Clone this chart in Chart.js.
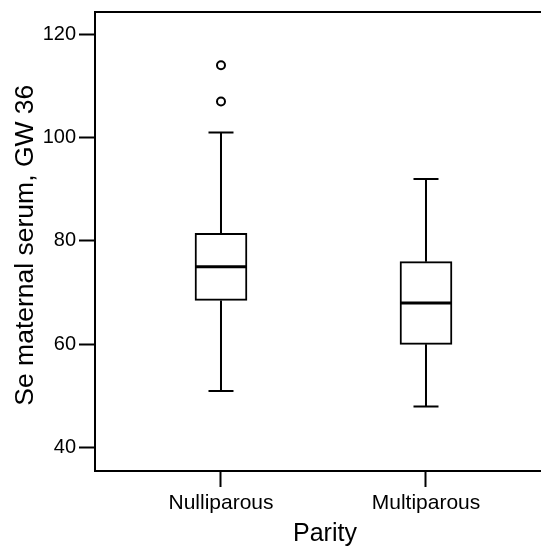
<!DOCTYPE html>
<html>
<head>
<meta charset="utf-8">
<script src="https://cdn.jsdelivr.net/npm/chart.js@4"></script>
<style>
  html, body { margin: 0; padding: 0; background: #fff; }
  #wrap { width: 541px; height: 550px; }
</style>
</head>
<body>
<div id="wrap"><canvas id="boxChart"></canvas></div>
<script>
// Valori (Se nel siero materno, settimana 36)
const categories = ['Nulliparous', 'Multiparous'];
const whiskerLow = [51, 48];
const q1 = [68.5, 60];
const median = [75, 68];
const q3 = [81.5, 76];
const whiskerHigh = [101, 92];
const outliers = [[107, 114], []];
const yTicks = [40, 60, 80, 100, 120];

const FONT = 'Liberation Sans, Arial, Helvetica, sans-serif';
const capHalf = 12.5; // metà larghezza dei "baffi", in pixel

// scatole come barre fluttuanti
const boxData = categories.map((c, i) => ({ x: i + 1, y: [q1[i], q3[i]] }));
// punti anomali
const outlierData = [];
outliers.forEach((vals, i) => vals.forEach(v => outlierData.push({ x: i + 1, y: v })));

// baffi, mediana e linea superiore disegnati con le scale del grafico
const boxplotLines = {
    id: 'boxplotLines',
    afterDatasetsDraw(chart) {
        const { ctx, chartArea, scales: { x, y } } = chart;
        ctx.save();
        ctx.strokeStyle = '#000';
        ctx.lineCap = 'butt';
        categories.forEach((c, i) => {
            const cx = x.getPixelForValue(i + 1);
            ctx.lineWidth = 2;
            ctx.beginPath();
            ctx.moveTo(cx, y.getPixelForValue(q3[i]));
            ctx.lineTo(cx, y.getPixelForValue(whiskerHigh[i]));
            ctx.moveTo(cx, y.getPixelForValue(q1[i]));
            ctx.lineTo(cx, y.getPixelForValue(whiskerLow[i]));
            ctx.moveTo(cx - capHalf, y.getPixelForValue(whiskerHigh[i]));
            ctx.lineTo(cx + capHalf, y.getPixelForValue(whiskerHigh[i]));
            ctx.moveTo(cx - capHalf, y.getPixelForValue(whiskerLow[i]));
            ctx.lineTo(cx + capHalf, y.getPixelForValue(whiskerLow[i]));
            ctx.stroke();
            // mediana
            const bar = chart.getDatasetMeta(0).data[i];
            ctx.lineWidth = 3;
            ctx.beginPath();
            ctx.moveTo(bar.x - bar.width / 2, y.getPixelForValue(median[i]));
            ctx.lineTo(bar.x + bar.width / 2, y.getPixelForValue(median[i]));
            ctx.stroke();
        });
        // bordo superiore
        ctx.lineWidth = 2;
        ctx.beginPath();
        ctx.moveTo(chartArea.left, chartArea.top);
        ctx.lineTo(chartArea.right, chartArea.top);
        ctx.stroke();
        ctx.restore();
    }
};

const config = {
    type: 'bar',
    data: {
        datasets: [{
            data: boxData,
            backgroundColor: '#fff',
            borderColor: '#000',
            borderWidth: 2,
            borderSkipped: false,
            barThickness: 52
        }, {
            type: 'scatter',
            data: outlierData,
            pointStyle: 'circle',
            pointRadius: 4,
            pointBackgroundColor: '#fff',
            pointBorderColor: '#000',
            pointBorderWidth: 2
        }]
    },
    options: {
        responsive: true,
        maintainAspectRatio: false,
        animation: false,
        layout: { autoPadding: false, padding: { top: 12, right: 0, left: 0, bottom: 0 } },
        plugins: {
            legend: { display: false },
            tooltip: { enabled: false }
        },
        scales: {
            x: {
                type: 'linear',
                offset: false,
                min: 0.3854,
                max: 2.561,
                afterBuildTicks: s => { s.ticks = categories.map((c, i) => ({ value: i + 1 })); },
                afterFit: s => { s.height = 79; s.paddingLeft = 0; s.paddingRight = 0; },
                ticks: {
                    color: '#000',
                    font: { family: FONT, size: 21 },
                    padding: 4,
                    maxRotation: 0,
                    callback: v => categories[v - 1]
                },
                grid: {
                    offset: false,
                    drawOnChartArea: false,
                    drawTicks: true,
                    tickLength: 16,
                    tickColor: '#000',
                    tickWidth: 2
                },
                border: { display: true, color: '#000', width: 2 },
                title: {
                    display: true,
                    text: '\u00a0\u00a0Parity',
                    color: '#000',
                    font: { family: FONT, size: 25 },
                    padding: { top: 0, bottom: 1 }
                }
            },
            y: {
                min: 35.5,
                max: 124.3,
                afterBuildTicks: s => { s.ticks = yTicks.map(v => ({ value: v })); },
                afterFit: s => { s.width = 95; s.paddingTop = 0; s.paddingBottom = 0; },
                ticks: {
                    color: '#000',
                    font: { family: FONT, size: 20 },
                    padding: 3
                },
                grid: {
                    drawOnChartArea: false,
                    drawTicks: true,
                    tickLength: 16,
                    tickColor: '#000',
                    tickWidth: 2
                },
                border: { display: true, color: '#000', width: 2 },
                title: {
                    display: true,
                    text: 'Se maternal serum, GW 36\u00a0',
                    color: '#000',
                    font: { family: FONT, size: 26.5 },
                    padding: { top: 10, bottom: 0 }
                }
            }
        }
    },
    plugins: [boxplotLines]
};

const boxChart = new Chart(document.getElementById('boxChart'), config);
</script>
</body>
</html>
